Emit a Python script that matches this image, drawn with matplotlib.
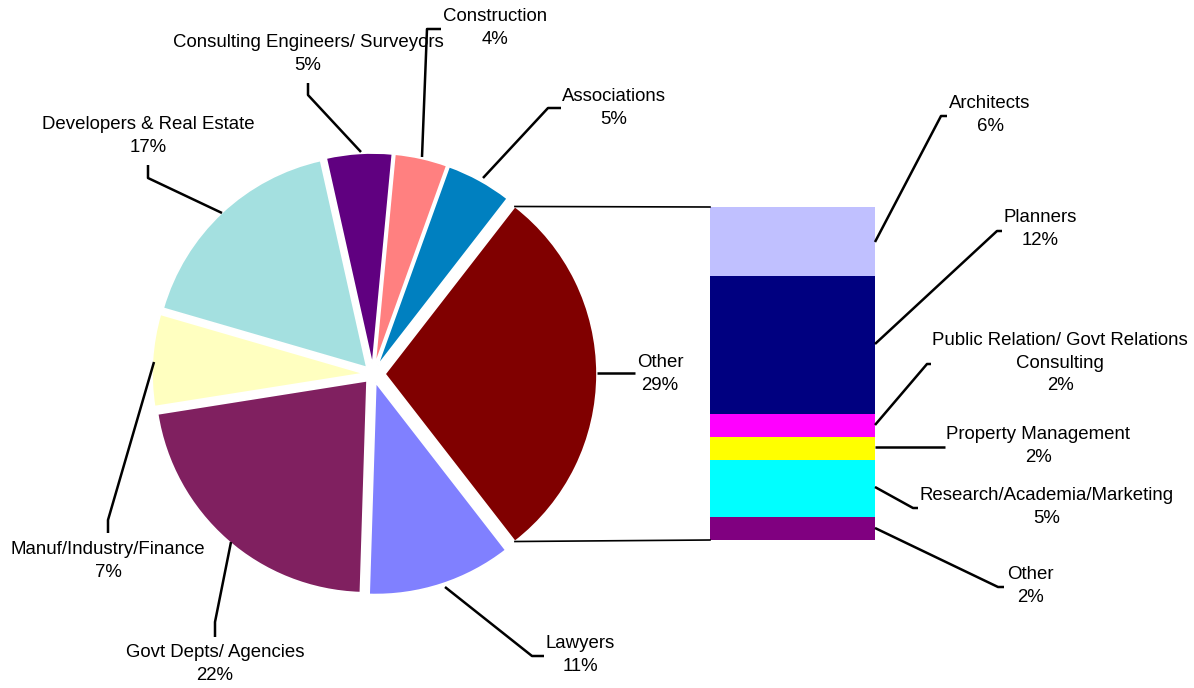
import numpy as np
import matplotlib
matplotlib.use("Agg")
import matplotlib.pyplot as plt

W, H = 1194, 688

# pie slices, counterclockwise starting with the split-out "Other"
pie_labels = ["Other", "Associations", "Construction", "Consulting Engineers/ Surveyors",
              "Developers & Real Estate", "Manuf/Industry/Finance", "Govt Depts/ Agencies", "Lawyers"]
pie_values = [29, 5, 4, 5, 17, 7, 22, 11]
pie_colors = ["#800000", "#0080C0", "#FF8080", "#600080",
              "#A4E0E0", "#FFFFC0", "#802060", "#8080FF"]

# breakdown of "Other", top to bottom
bar_labels = ["Architects", "Planners", "Public Relation/ Govt Relations\nConsulting",
              "Property Management", "Research/Academia/Marketing", "Other"]
bar_values = [6, 12, 2, 2, 5, 2]
bar_colors = ["#C0C0FF", "#000080", "#FF00FF", "#FFFF00", "#00FFFF", "#800080"]


def px(x, y):
    # pixel position (origin top-left) -> data coords
    return x, H - y


# label text centre and leader path, all in pixels
pie_label_pos = {
    "Other": ((660, 374), [(597, 373), (635, 373)]),
    "Associations": ((614, 108), [(483, 178), (548, 108), (561, 108)]),
    "Construction": ((495, 28), [(422, 157), (427, 29), (441, 29)]),
    "Consulting Engineers/ Surveyors": ((308, 54), [(361, 152), (308, 95), (308, 83)]),
    "Developers & Real Estate": ((148, 136), [(222, 213), (148, 178), (148, 165)]),
    "Manuf/Industry/Finance": ((108, 561), [(154, 362), (108, 520), (108, 533)]),
    "Govt Depts/ Agencies": ((215, 664), [(231, 542), (215, 622), (215, 637)]),
    "Lawyers": ((580, 655), [(445, 587), (532, 656), (544, 656)]),
}
bar_label_pos = [
    ((990, 115), [(875, 242), (941, 116), (947, 116)]),
    ((1040, 229), [(875, 344), (997, 231), (1002, 231)]),
    ((1060, 363), [(875, 425), (927, 364), (931, 364)]),
    ((1038, 446), [(875, 447), (945, 447)]),
    ((1047, 507), [(875, 487), (913, 508), (918, 508)]),
    ((1030, 586), [(875, 528), (998, 587), (1004, 587)]),
]

plt.rcParams["font.family"] = ["Liberation Sans", "DejaVu Sans"]
FS = 13.4
LS = 1.45

fig = plt.figure(figsize=(W / 100, H / 100), dpi=100)
ax = fig.add_axes([0, 0, 1, 1])

radius = 212
# explode is in data units here (radius is not 1)
explode = [12] + [9] * (len(pie_values) - 1)
start = -pie_values[0] / sum(pie_values) * 360 / 2
wedges, _ = ax.pie(pie_values, colors=pie_colors, explode=explode, startangle=start,
                   radius=radius, center=px(373, 374), counterclock=True,
                   wedgeprops=dict(edgecolor="white", linewidth=1.2))

# stacked bar for the "Other" breakdown
bar_top, bar_bottom = 688 - 207, 688 - 540
scale = (bar_top - bar_bottom) / sum(bar_values)
heights = np.array(bar_values) * scale
bottoms = bar_top - np.cumsum(heights)
bar_x = (710 + 875) / 2
ax.bar([bar_x] * len(bar_values), heights, bottom=bottoms, width=875 - 710,
       color=bar_colors, edgecolor="none")

# connector lines from the Other wedge to the bar
w = wedges[0]
cx, cy = w.center
for ang, yb in [(w.theta2, bar_top), (w.theta1, bar_bottom)]:
    ex = cx + w.r * np.cos(np.radians(ang))
    ey = cy + w.r * np.sin(np.radians(ang))
    ax.plot([ex, bar_x - (875 - 710) / 2], [ey, yb], color="black", lw=1.2)

for lab, val in zip(pie_labels, pie_values):
    (tx, ty), path = pie_label_pos[lab]
    xs, ys = zip(*[px(*p) for p in path])
    ax.plot(xs, ys, color="black", lw=1.8, solid_capstyle="butt")
    ax.text(*px(tx, ty), f"{lab}\n{val}%", ha="center", va="center",
            fontsize=FS, linespacing=LS, multialignment="center")

for lab, val, ((tx, ty), path) in zip(bar_labels, bar_values, bar_label_pos):
    xs, ys = zip(*[px(*p) for p in path])
    ax.plot(xs, ys, color="black", lw=1.8, solid_capstyle="butt")
    ax.text(*px(tx, ty), f"{lab}\n{val}%", ha="center", va="center",
            fontsize=FS, linespacing=LS, multialignment="center")

ax.set_xlim(0, W)
ax.set_ylim(0, H)
ax.set_aspect("auto")
ax.axis("off")

fig.savefig("out.png", dpi=100)
